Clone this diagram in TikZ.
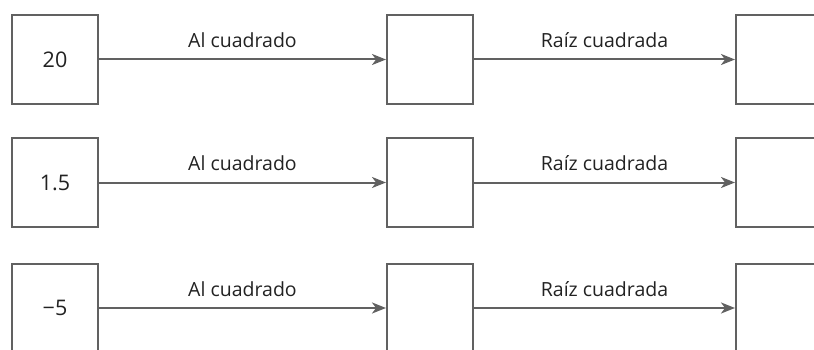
\documentclass[tikz,border=0pt]{standalone}
\usepackage{fontspec}
\setmainfont{Open Sans}
\usetikzlibrary{arrows.meta}
\definecolor{linegray}{HTML}{616161}
\definecolor{inkgray}{HTML}{222222}
\begin{document}
\begin{tikzpicture}[x=1pt,y=-1pt,
  valbox/.style={draw=linegray, line width=2pt, fill=white, inner sep=0pt,
    minimum width=86pt, minimum height=89pt, text=inkgray,
    font=\fontsize{21.5}{24}\selectfont},
  flow/.style={draw=linegray, line width=2pt,
    -{Stealth[length=14pt,width=11pt,inset=4pt]}},
  oplabel/.style={anchor=base, yshift=12pt, inner sep=0pt, text=inkgray,
    font=\fontsize{19.5}{22}\selectfont}]
\useasboundingbox (0,0) rectangle (814,350);
\clip (0,0) rectangle (814,350);
\foreach \yy/\val [count=\i] in {59.5/20, 182.5/1.5, 308/{−5}} {
  \node[valbox] (in\i)  at (55,\yy)  {\val};
  \node[valbox] (mid\i) at (430,\yy) {};
  \node[valbox] (out\i) at (779,\yy) {};
  \draw[flow] (in\i) -- node[oplabel] {Al cuadrado} (mid\i);
  \draw[flow] (mid\i) -- node[oplabel] {Raíz cuadrada} (out\i);
}
\end{tikzpicture}
\end{document}
